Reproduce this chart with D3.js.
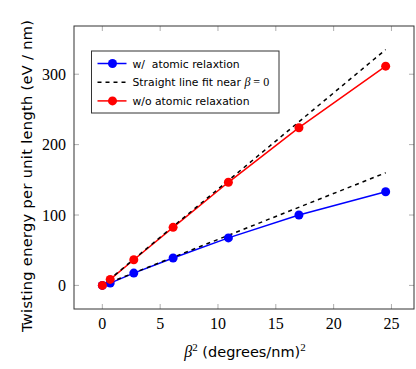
<!DOCTYPE html>
<html>
<head>
<meta charset="utf-8">
<script src="https://cdn.jsdelivr.net/npm/d3@7"></script>
<style>
    body { margin: 0; background: #fff; }
    .tick-label { font-family: "Liberation Serif", "DejaVu Serif", serif; font-size: 16px; fill: #000; }
    .axis-title { font-family: "DejaVu Sans", sans-serif; font-size: 14.5px; fill: #000; }
    .legend-text { font-family: "DejaVu Sans", sans-serif; font-size: 10.8px; fill: #000; }
</style>
</head>
<body>
<div id="chart"></div>
<script>
// beta^2 values (degrees/nm)^2
const betaSq = [0, 0.68, 2.72, 6.12, 10.9, 17, 24.5];
// twisting energy (eV / nm)
const withRelax = [0, 3.3, 17.5, 39, 67.5, 100, 133];
const withoutRelax = [0, 8.5, 36.5, 82.5, 146.5, 224, 311.5];
// straight line fits near beta = 0, [start, end]
const fitX = [0, 24.5];
const fitWith = [0, 160];
const fitWithout = [0, 335];

const xTicks = [0, 5, 10, 15, 20, 25];
const yTicks = [0, 100, 200, 300];

const legendLabels = ["w/  atomic relaxtion", "Straight line fit near ", "w/o atomic relaxation"];

let margin = {top: 26, right: 2, bottom: 60, left: 74};
let width = 416 - margin.left - margin.right;
let height = 369 - margin.top - margin.bottom;

let svg = d3.select("#chart").append("svg")
    .attr("width", 416)
    .attr("height", 369);

let g = svg.append("g")
    .attr("transform", `translate(${margin.left}, ${margin.top})`);

// Scales (pgfplots style 10% enlargement)
let xScale = d3.scaleLinear()
    .domain([-2.45, 26.95])
    .range([0, width]);

let yScale = d3.scaleLinear()
    .domain([-33.5, 368.5])
    .range([height, 0]);

// Ticks inside on every side
let tickLen = 5;
let ticks = g.append("g").attr("stroke", "#999").attr("stroke-width", 0.8);
xTicks.forEach(t => {
    ticks.append("line").attr("x1", xScale(t)).attr("x2", xScale(t)).attr("y1", height).attr("y2", height - tickLen);
    ticks.append("line").attr("x1", xScale(t)).attr("x2", xScale(t)).attr("y1", 0).attr("y2", tickLen);
});
yTicks.forEach(t => {
    ticks.append("line").attr("y1", yScale(t)).attr("y2", yScale(t)).attr("x1", 0).attr("x2", tickLen);
    ticks.append("line").attr("y1", yScale(t)).attr("y2", yScale(t)).attr("x1", width).attr("x2", width - tickLen);
});

// Tick labels
g.selectAll(".x-label")
    .data(xTicks)
    .enter().append("text")
    .attr("class", "tick-label")
    .attr("x", d => xScale(d))
    .attr("y", height + 20)
    .attr("text-anchor", "middle")
    .text(d => d);

g.selectAll(".y-label")
    .data(yTicks)
    .enter().append("text")
    .attr("class", "tick-label")
    .attr("x", -8)
    .attr("y", d => yScale(d) + 5.5)
    .attr("text-anchor", "end")
    .text(d => d);

// Lines
let line = d3.line()
    .x(d => xScale(d[0]))
    .y(d => yScale(d[1]));

let bluePts = betaSq.map((x, i) => [x, withRelax[i]]);
let redPts = betaSq.map((x, i) => [x, withoutRelax[i]]);

g.append("path").datum(bluePts)
    .attr("d", line).attr("fill", "none").attr("stroke", "#0000ff").attr("stroke-width", 1.5);
g.append("path").datum(redPts)
    .attr("d", line).attr("fill", "none").attr("stroke", "#ff0000").attr("stroke-width", 1.5);

[fitWith, fitWithout].forEach(fit => {
    g.append("path").datum(fitX.map((x, i) => [x, fit[i]]))
        .attr("d", line).attr("fill", "none").attr("stroke", "#000")
        .attr("stroke-width", 1.5).attr("stroke-dasharray", "4,4");
});

g.selectAll(".blue-dot").data(bluePts).enter().append("circle")
    .attr("cx", d => xScale(d[0])).attr("cy", d => yScale(d[1]))
    .attr("r", 4.5).attr("fill", "#0000ff");
g.selectAll(".red-dot").data(redPts).enter().append("circle")
    .attr("cx", d => xScale(d[0])).attr("cy", d => yScale(d[1]))
    .attr("r", 4.5).attr("fill", "#ff0000");

// Box
g.append("rect")
    .attr("width", width).attr("height", height)
    .attr("fill", "none").attr("stroke", "#333").attr("stroke-width", 1);

// Legend
let legend = g.append("g").attr("transform", "translate(17.5, 25)");
legend.append("rect")
    .attr("width", 187.5).attr("height", 62)
    .attr("fill", "#fff").attr("stroke", "#333").attr("stroke-width", 1);

let legendColors = ["#0000ff", "#000", "#ff0000"];
legendLabels.forEach((label, i) => {
    let y = 12.5 + i * 18.7;
    legend.append("line")
        .attr("x1", 6).attr("x2", 35).attr("y1", y).attr("y2", y)
        .attr("stroke", legendColors[i]).attr("stroke-width", 1.5)
        .attr("stroke-dasharray", i == 1 ? "4,4" : null);
    if (i != 1) {
        legend.append("circle").attr("cx", 21).attr("cy", y).attr("r", 4.5).attr("fill", legendColors[i]);
    }
    let t = legend.append("text")
        .attr("class", "legend-text")
        .attr("x", 41).attr("y", y + 4)
        .attr("xml:space", "preserve")
        .style("white-space", "pre")
        .text(label);
    if (i == 1) {
        t.append("tspan").attr("font-family", "Liberation Serif, serif").attr("font-style", "italic")
            .attr("font-size", "12px").text("β");
        t.append("tspan").attr("font-family", "Liberation Serif, serif").attr("font-size", "12px").text(" = 0");
    }
});

// Axis titles
let xt = svg.append("text")
    .attr("class", "axis-title")
    .attr("x", 245).attr("y", 357)
    .attr("text-anchor", "middle");
xt.append("tspan").attr("font-family", "Liberation Serif, serif").attr("font-style", "italic").attr("font-size", "16px").text("β");
xt.append("tspan").attr("font-family", "Liberation Serif, serif").attr("font-size", "11px").attr("dy", -6).text("2");
xt.append("tspan").attr("dy", 6).text(" (degrees/nm)");
xt.append("tspan").attr("font-family", "Liberation Serif, serif").attr("font-size", "11px").attr("dy", -6).text("2");

svg.append("text")
    .attr("class", "axis-title")
    .attr("transform", "rotate(-90)")
    .attr("x", -176).attr("y", 32)
    .attr("text-anchor", "middle")
    .attr("textLength", 312)
    .attr("lengthAdjust", "spacing")
    .text("Twisting energy per unit length (eV / nm)");
</script>
</body>
</html>
